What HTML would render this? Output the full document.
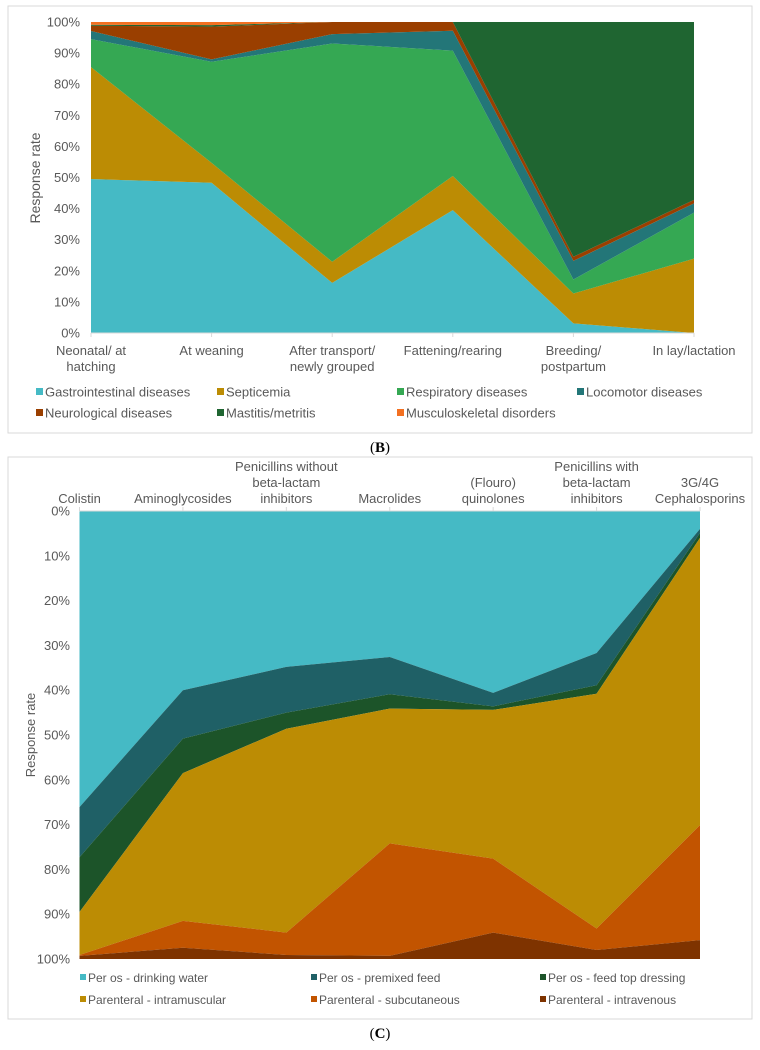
<!DOCTYPE html>
<html><head><meta charset="utf-8"><style>
body{margin:0;background:#fff;font-family:"Liberation Sans",sans-serif;}
svg text{font-family:"Liberation Sans",sans-serif;fill:#595959;}
</style></head><body>
<svg id="s" width="760" height="1045" viewBox="0 0 760 1045" xmlns="http://www.w3.org/2000/svg">
<rect x="8" y="6" width="744" height="427" fill="#fff" stroke="#d9d9d9"/>
<rect x="8" y="457" width="744" height="562" fill="#fff" stroke="#d9d9d9"/>
<text x="380" y="452" text-anchor="middle" style="font-family:'Liberation Serif',serif;font-size:15px;fill:#000">(<tspan font-weight="bold">B</tspan>)</text>
<text x="380" y="1038" text-anchor="middle" style="font-family:'Liberation Serif',serif;font-size:15px;fill:#000">(<tspan font-weight="bold">C</tspan>)</text>
<g id="gb"></g><g id="gc"></g>
</svg>
<script>
const bCategories=[["Neonatal/ at","hatching"],["At weaning"],["After transport/","newly grouped"],["Fattening/rearing"],["Breeding/","postpartum"],["In lay/lactation"]];
const bSeriesNames=["Gastrointestinal diseases","Septicemia","Respiratory diseases","Locomotor diseases","Neurological diseases","Mastitis/metritis","Musculoskeletal disorders"];
const bGI=[49.5,48.3,16.1,39.5,3.1,0];
const bSept=[36,6.4,6.8,11,9.6,23.9];
const bResp=[9,32.5,70.2,40.3,4.5,14.8];
const bLoco=[2.6,0.8,3,6.4,6,3];
const bNeuro=[1.7,10.5,3.9,2.8,1.3,1.1];
const bMast=[0.3,0.5,0,0,75.5,57.2];
const bMusc=[0.9,1,0,0,0,0];
const bTicks=[0,10,20,30,40,50,60,70,80,90,100];

const cCategories=[["Colistin"],["Aminoglycosides"],["Penicillins without","beta-lactam","inhibitors"],["Macrolides"],["(Flouro)","quinolones"],["Penicillins with","beta-lactam","inhibitors"],["3G/4G","Cephalosporins"]];
const cSeriesNames=["Per os - drinking water","Per os - premixed feed","Per os - feed top dressing","Parenteral - intramuscular","Parenteral - subcutaneous","Parenteral - intravenous"];
const cWater=[66.1,40.0,34.8,32.6,40.6,31.7,4.0];
const cPremix=[11.2,10.8,10.2,8.3,3.0,7.2,0.9];
const cTop=[12.2,7.7,3.6,3.2,0.8,1.9,1.1];
const cIM=[9.6,33.0,45.5,30.1,33.2,52.4,64.1];
const cSC=[0.2,6.0,5.0,25.1,16.5,4.8,25.7];
const cIV=[0.7,2.5,0.9,0.7,5.9,2.0,4.2];
const cTicks=[0,10,20,30,40,50,60,70,80,90,100];

const NS="http://www.w3.org/2000/svg";
function mk(parent,tag,attrs){const e=document.createElementNS(NS,tag);for(const k in attrs)e.setAttribute(k,attrs[k]);parent.appendChild(e);return e;}

// Chart B
(function(){
const g=document.getElementById('gb');
const L=91,R=694,T=22,B=333;
const x=i=>L+i*(R-L)/(bCategories.length-1);
const y=v=>B-v/100*(B-T);
const series=[bGI,bSept,bResp,bLoco,bNeuro,bMast,bMusc];
const colors=["#45BAC5","#BC8C04","#35A853","#237678","#9A3F00","#1F6531","#F37021"];
const keys=["gastrointestinal","septicemia","respiratory","locomotor","neurological","mastitis","musculoskeletal"];
let base=bGI.map(()=>0);
series.forEach((s,si)=>{
  const top=base.map((b,i)=>b+s[i]);
  let pts=top.map((v,i)=>x(i)+","+y(v));
  for(let i=base.length-1;i>=0;i--)pts.push(x(i)+","+y(base[i]));
  const p=mk(g,'polygon',{points:pts.join(' '),fill:colors[si]});
  
  
  base=top;
});
const ax=mk(g,'line',{x1:L,x2:R,y1:B,y2:B,stroke:'#d9d9d9'});


bCategories.forEach((c,i)=>{
  mk(g,'line',{x1:x(i),x2:x(i),y1:B,y2:B+4,stroke:'#d9d9d9'});
  const t=mk(g,'text',{x:x(i),y:355,'text-anchor':'middle','font-size':'13'});
  
  
  c.forEach((ln,j)=>{const ts=mk(t,'tspan',{x:x(i),dy:j?16:0});ts.textContent=ln;});
});
bTicks.forEach(v=>{
  const t=mk(g,'text',{x:80,y:y(v)+4.5,'text-anchor':'end','font-size':'13'});
  
  
  t.textContent=v+'%';
});
const yt=mk(g,'text',{x:0,y:0,transform:'translate(40,178) rotate(-90)','text-anchor':'middle','font-size':'14'});


yt.textContent='Response rate';
const lx=[36,217,397,577,36,217,397],ly=[392,392,392,392,413,413,413];
bSeriesNames.forEach((n,i)=>{
  const e=mk(g,'g',{});
  
  
  mk(e,'rect',{x:lx[i],y:ly[i]-4,width:7,height:7,fill:colors[i]});
  const t=mk(e,'text',{x:lx[i]+9,y:ly[i]+4.5,'font-size':'13'});t.textContent=n;
});
})();

// Chart C
(function(){
const g=document.getElementById('gc');
const L=79.5,R=700,T=511,B=959;
const x=i=>L+i*(R-L)/(cCategories.length-1);
const y=v=>T+v/100*(B-T);
const series=[cWater,cPremix,cTop,cIM,cSC,cIV];
const colors=["#45BAC5","#1F6066","#1C5429","#BC8C04","#C25400","#7E3300"];
const keys=["drinking-water","premixed-feed","feed-top-dressing","intramuscular","subcutaneous","intravenous"];
let base=cWater.map(()=>0);
series.forEach((s,si)=>{
  const top=base.map((b,i)=>b+s[i]);
  let pts=top.map((v,i)=>x(i)+","+y(v));
  for(let i=base.length-1;i>=0;i--)pts.push(x(i)+","+y(base[i]));
  const p=mk(g,'polygon',{points:pts.join(' '),fill:colors[si]});
  
  
  base=top;
});
const ax=mk(g,'line',{x1:L,x2:R,y1:T,y2:T,stroke:'#d9d9d9'});


cCategories.forEach((c,i)=>{
  mk(g,'line',{x1:x(i),x2:x(i),y1:T-4,y2:T,stroke:'#d9d9d9'});
  const t=mk(g,'text',{x:x(i),y:503-(c.length-1)*16,'text-anchor':'middle','font-size':'13'});
  
  
  c.forEach((ln,j)=>{const ts=mk(t,'tspan',{x:x(i),dy:j?16:0});ts.textContent=ln;});
});
cTicks.forEach(v=>{
  const t=mk(g,'text',{x:70,y:y(v)+4.5,'text-anchor':'end','font-size':'13'});
  
  
  t.textContent=v+'%';
});
const yt=mk(g,'text',{x:0,y:0,transform:'translate(35,735) rotate(-90)','text-anchor':'middle','font-size':'13'});


yt.textContent='Response rate';
const lx=[80,311,540,80,311,540],ly=[978,978,978,1000,1000,1000];
cSeriesNames.forEach((n,i)=>{
  const e=mk(g,'g',{});
  
  
  mk(e,'rect',{x:lx[i],y:ly[i]-4,width:6,height:6,fill:colors[i]});
  const t=mk(e,'text',{x:lx[i]+8,y:ly[i]+4,'font-size':'12'});t.textContent=n;
});
})();
</script>
</body></html>
